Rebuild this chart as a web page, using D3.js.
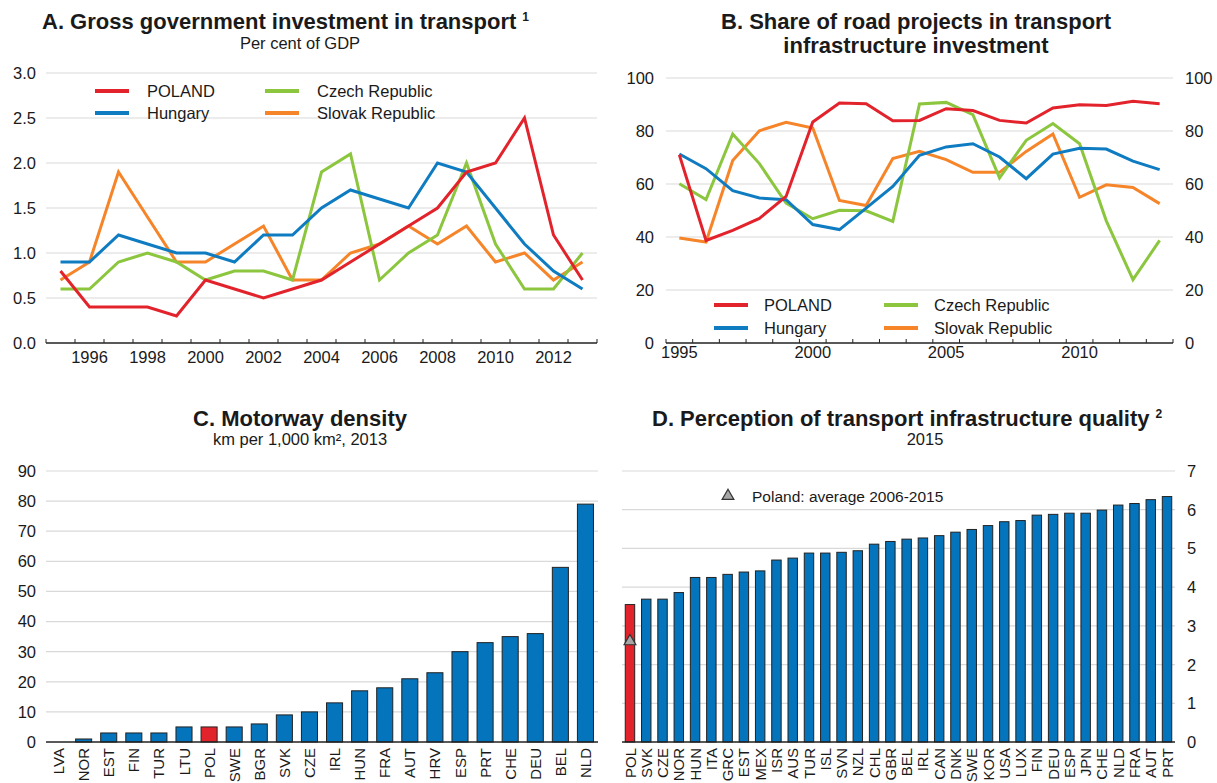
<!DOCTYPE html>
<html><head><meta charset="utf-8">
<script src="https://cdn.jsdelivr.net/npm/d3@7/dist/d3.min.js"></script>
<style>
body{margin:0;background:#fff}
text{font-family:"Liberation Sans",Arial,Helvetica,sans-serif;fill:#1a1a1a}
</style>
</head><body>
<svg id="chart" width="1217" height="783"></svg>
<script>
// ---------- DATA ----------
const years = [1995,1996,1997,1998,1999,2000,2001,2002,2003,2004,2005,2006,2007,2008,2009,2010,2011,2012,2013];
const seriesNames = ["POLAND","Hungary","Czech Republic","Slovak Republic"];

// Panel A: gross government investment in transport, % of GDP
const aPoland  = [0.8,0.4,0.4,0.4,0.3,0.7,0.6,0.5,0.6,0.7,0.9,1.1,1.3,1.5,1.9,2.0,2.5,1.2,0.7];
const aHungary = [0.9,0.9,1.2,1.1,1.0,1.0,0.9,1.2,1.2,1.5,1.7,1.6,1.5,2.0,1.9,1.5,1.1,0.8,0.6];
const aCzech   = [0.6,0.6,0.9,1.0,0.9,0.7,0.8,0.8,0.7,1.9,2.1,0.7,1.0,1.2,2.0,1.1,0.6,0.6,1.0];
const aSlovak  = [0.7,0.9,1.9,1.4,0.9,0.9,1.1,1.3,0.7,0.7,1.0,1.1,1.3,1.1,1.3,0.9,1.0,0.7,0.9];
const aTicks = [0,0.5,1.0,1.5,2.0,2.5,3.0];
const aYearLabels = [1996,1998,2000,2002,2004,2006,2008,2010,2012];

// Panel B: share of road projects in transport infrastructure investment
const bPoland  = [71,38.7,42.5,47,55.3,83.4,90.6,90.3,83.9,84,88.4,87.7,84,83,88.7,89.9,89.6,91.2,90.3];
const bHungary = [71.3,65.8,57.5,54.7,54.1,44.7,42.8,50.9,59.1,70.8,74,75.2,70.2,62,71.3,73.5,73.2,68.6,65.4];
const bCzech   = [60.1,54.1,78.9,67.7,52.8,46.9,50.1,49.9,45.9,90.2,90.8,86.2,62.3,76.5,82.8,75.2,46.1,23.9,38.7];
const bSlovak  = [39.6,38.1,68.9,80.1,83.3,81.1,53.8,51.9,69.6,72.3,69.2,64.4,64.4,72.3,78.9,55,59.7,58.7,52.6];
const bTicks = [0,20,40,60,80,100];
const bYearLabels = [1995,2000,2005,2010];

// Panel C: motorway density, km per 1,000 km2, 2013
const cCountries = ["LVA","NOR","EST","FIN","TUR","LTU","POL","SWE","BGR","SVK","CZE","IRL","HUN","FRA","AUT","HRV","ESP","PRT","CHE","DEU","BEL","NLD"];
const cValues    = [0,1,3,3,3,5,5,5,6,9,10,13,17,18,21,23,30,33,35,36,58,79];
const cTicks = [0,10,20,30,40,50,60,70,80,90];

// Panel D: perception of transport infrastructure quality, 2015
const dCountries = ["POL","SVK","CZE","NOR","HUN","ITA","GRC","EST","MEX","ISR","AUS","TUR","ISL","SVN","NZL","CHL","GBR","BEL","IRL","CAN","DNK","SWE","KOR","USA","LUX","FIN","DEU","ESP","JPN","CHE","NLD","FRA","AUT","PRT"];
const dValues    = [3.55,3.69,3.69,3.86,4.25,4.25,4.33,4.39,4.42,4.70,4.75,4.88,4.88,4.90,4.94,5.11,5.18,5.24,5.27,5.33,5.42,5.49,5.59,5.69,5.72,5.86,5.88,5.91,5.91,5.99,6.12,6.16,6.26,6.34];
const dPolandAvg = 2.6;
const dTicks = [0,1,2,3,4,5,6,7];

// ---------- STYLE ----------
const COL = {POLAND:"#e3232c", Hungary:"#0f7cc1", "Czech Republic":"#8cc63f", "Slovak Republic":"#f6852a"};
const BAR = "#0474bc", BAR_RED = "#e3232c", GRID = "#d9d9d9", AXIS = "#222";

const svg = d3.select("#chart");

function title(x, y, txt, sup, anchor){
  const t = svg.append("text").attr("x",x).attr("y",y).attr("text-anchor",anchor||"middle")
    .attr("font-weight","bold").attr("font-size",22).text(txt);
  if(sup){
    t.append("tspan").attr("font-size",12).attr("dx",6).attr("dy",-8).text(sup);
  }
}
function subtitle(x,y,txt){
  svg.append("text").attr("x",x).attr("y",y).attr("text-anchor","middle").attr("font-size",16.5).text(txt);
}
function catLabels(g, x, cats){
  g.selectAll(".xl").data(cats).join("text")
    .attr("transform",d=>`translate(${x(d)+x.bandwidth()/2},748) rotate(-90)`)
    .attr("text-anchor","end").attr("dy","0.37em").attr("font-size",15).text(d=>d);
}

// ---------- PANEL A ----------
(function(){
  const x = d3.scaleBand().domain(years).range([46,597]);
  const y = d3.scaleLinear().domain([0,3]).range([343,73]);
  const g = svg.append("g");
  g.selectAll(".grid").data(aTicks.filter(d=>d>0)).join("line")
    .attr("x1",46).attr("x2",597).attr("y1",d=>y(d)).attr("y2",d=>y(d))
    .attr("stroke",GRID).attr("stroke-width",1.2);
  g.selectAll(".yl").data(aTicks).join("text")
    .attr("x",36).attr("y",d=>y(d)).attr("dy","0.36em").attr("text-anchor","end")
    .attr("font-size",16.5).text(d=>d3.format(".1f")(d));
  const bounds = years.map(d=>x(d)).concat([x(years[years.length-1])+x.bandwidth()]);
  g.selectAll(".tk").data(bounds).join("line")
    .attr("x1",d=>d).attr("x2",d=>d).attr("y1",343).attr("y2",339).attr("stroke",AXIS).attr("stroke-width",1);
  g.append("line").attr("x1",46).attr("x2",597).attr("y1",343).attr("y2",343).attr("stroke",AXIS).attr("stroke-width",1.3);
  g.selectAll(".xl").data(aYearLabels).join("text")
    .attr("x",d=>x(d)+x.bandwidth()/2).attr("y",363).attr("text-anchor","middle").attr("font-size",16.5).text(d=>d);
  const data = [aPoland,aHungary,aCzech,aSlovak];
  const line = d3.line().x((d,i)=>x(years[i])+x.bandwidth()/2).y(d=>y(d));
  [3,2,1,0].forEach(k=>{
    g.append("path").attr("d",line(data[k])).attr("fill","none")
      .attr("stroke",COL[seriesNames[k]]).attr("stroke-width",3);
  });
  const leg = [[95,91],[95,113],[265,91],[265,113]];
  seriesNames.forEach((n,k)=>{
    g.append("line").attr("x1",leg[k][0]).attr("x2",leg[k][0]+34).attr("y1",leg[k][1]).attr("y2",leg[k][1])
      .attr("stroke",COL[n]).attr("stroke-width",4);
    g.append("text").attr("x",leg[k][0]+52).attr("y",leg[k][1]).attr("dy","0.36em").attr("font-size",16.5).text(n);
  });
  title(42,29,"A. Gross government investment in transport","1","start");
  subtitle(300,49,"Per cent of GDP");
})();

// ---------- PANEL B ----------
(function(){
  const x = d3.scaleBand().domain(years).range([666,1173]);
  const y = d3.scaleLinear().domain([0,100]).range([343,78]);
  const g = svg.append("g");
  g.selectAll(".grid").data(bTicks.filter(d=>d>0)).join("line")
    .attr("x1",666).attr("x2",1173).attr("y1",d=>y(d)).attr("y2",d=>y(d))
    .attr("stroke",GRID).attr("stroke-width",1.2);
  g.selectAll(".yl").data(bTicks).join("text")
    .attr("x",654).attr("y",d=>y(d)).attr("dy","0.36em").attr("text-anchor","end")
    .attr("font-size",16.5).text(d=>d);
  g.selectAll(".yr").data(bTicks).join("text")
    .attr("x",1185).attr("y",d=>y(d)).attr("dy","0.36em").attr("text-anchor","start")
    .attr("font-size",16.5).text(d=>d);
  const bounds = years.map(d=>x(d)).concat([x(years[years.length-1])+x.bandwidth()]);
  g.selectAll(".tk").data(bounds).join("line")
    .attr("x1",d=>d).attr("x2",d=>d).attr("y1",343).attr("y2",339).attr("stroke",AXIS).attr("stroke-width",1);
  g.append("line").attr("x1",666).attr("x2",1173).attr("y1",343).attr("y2",343).attr("stroke",AXIS).attr("stroke-width",1.3);
  g.selectAll(".xl").data(bYearLabels).join("text")
    .attr("x",d=>x(d)+x.bandwidth()/2).attr("y",358).attr("text-anchor","middle").attr("font-size",16.5).text(d=>d);
  const data = [bPoland,bHungary,bCzech,bSlovak];
  const line = d3.line().x((d,i)=>x(years[i])+x.bandwidth()/2).y(d=>y(d));
  [3,2,1,0].forEach(k=>{
    g.append("path").attr("d",line(data[k])).attr("fill","none")
      .attr("stroke",COL[seriesNames[k]]).attr("stroke-width",3);
  });
  const leg = [[714,305],[714,328],[884,305],[884,328]];
  seriesNames.forEach((n,k)=>{
    g.append("line").attr("x1",leg[k][0]).attr("x2",leg[k][0]+34).attr("y1",leg[k][1]).attr("y2",leg[k][1])
      .attr("stroke",COL[n]).attr("stroke-width",4);
    g.append("text").attr("x",leg[k][0]+50).attr("y",leg[k][1]).attr("dy","0.36em").attr("font-size",16.5).text(n);
  });
  title(916,29,"B. Share of road projects in transport");
  title(916,53,"infrastructure investment");
})();

// ---------- PANEL C ----------
(function(){
  const x = d3.scaleBand().domain(cCountries).range([46,598]).paddingInner(0.36).paddingOuter(0.18);
  const y = d3.scaleLinear().domain([0,90]).range([742,471]);
  const g = svg.append("g");
  g.selectAll(".grid").data(cTicks.filter(d=>d>0)).join("line")
    .attr("x1",46).attr("x2",598).attr("y1",d=>y(d)).attr("y2",d=>y(d))
    .attr("stroke",GRID).attr("stroke-width",1.2);
  g.selectAll(".yl").data(cTicks).join("text")
    .attr("x",36).attr("y",d=>y(d)).attr("dy","0.36em").attr("text-anchor","end")
    .attr("font-size",16.5).text(d=>d);
  g.selectAll("rect").data(cCountries).join("rect")
    .attr("x",d=>x(d)).attr("width",x.bandwidth())
    .attr("y",(d,i)=>y(cValues[i])).attr("height",(d,i)=>y(0)-y(cValues[i]))
    .attr("fill",d=>d==="POL"?BAR_RED:BAR).attr("stroke","#222").attr("stroke-width",1);
  g.append("line").attr("x1",46).attr("x2",598).attr("y1",742).attr("y2",742).attr("stroke",AXIS).attr("stroke-width",1.3);
  catLabels(g, x, cCountries);
  title(300,426,"C. Motorway density");
  subtitle(300,445,"km per 1,000 km², 2013");
})();

// ---------- PANEL D ----------
(function(){
  const x = d3.scaleBand().domain(dCountries).range([622,1175]).paddingInner(0.42).paddingOuter(0.2);
  const y = d3.scaleLinear().domain([0,7]).range([742,471]);
  const g = svg.append("g");
  g.selectAll(".grid").data(dTicks.filter(d=>d>0)).join("line")
    .attr("x1",622).attr("x2",1175).attr("y1",d=>y(d)).attr("y2",d=>y(d))
    .attr("stroke",GRID).attr("stroke-width",1.2);
  g.selectAll(".yr").data(dTicks).join("text")
    .attr("x",1187).attr("y",d=>y(d)).attr("dy","0.36em").attr("text-anchor","start")
    .attr("font-size",16.5).text(d=>d);
  g.selectAll("rect").data(dCountries).join("rect")
    .attr("x",d=>x(d)).attr("width",x.bandwidth())
    .attr("y",(d,i)=>y(dValues[i])).attr("height",(d,i)=>y(0)-y(dValues[i]))
    .attr("fill",d=>d==="POL"?BAR_RED:BAR).attr("stroke","#222").attr("stroke-width",1);
  g.append("line").attr("x1",622).attr("x2",1175).attr("y1",742).attr("y2",742).attr("stroke",AXIS).attr("stroke-width",1.3);
  catLabels(g, x, dCountries);
  const tri = d3.symbol().type(d3.symbolTriangle).size(60);
  g.append("path").attr("d",tri()).attr("transform",`translate(${x("POL")+x.bandwidth()/2},${y(dPolandAvg)})`)
    .attr("fill","#a6a6a6").attr("stroke","#333").attr("stroke-width",1.2);
  g.append("path").attr("d",tri()).attr("transform",`translate(728,496)`)
    .attr("fill","#a6a6a6").attr("stroke","#333").attr("stroke-width",1.2);
  g.append("text").attr("x",752).attr("y",496).attr("dy","0.36em").attr("font-size",15.5).text("Poland: average 2006-2015");
  title(652,426,"D. Perception of transport infrastructure quality","2","start");
  subtitle(925,445,"2015");
})();
</script>
</body></html>
